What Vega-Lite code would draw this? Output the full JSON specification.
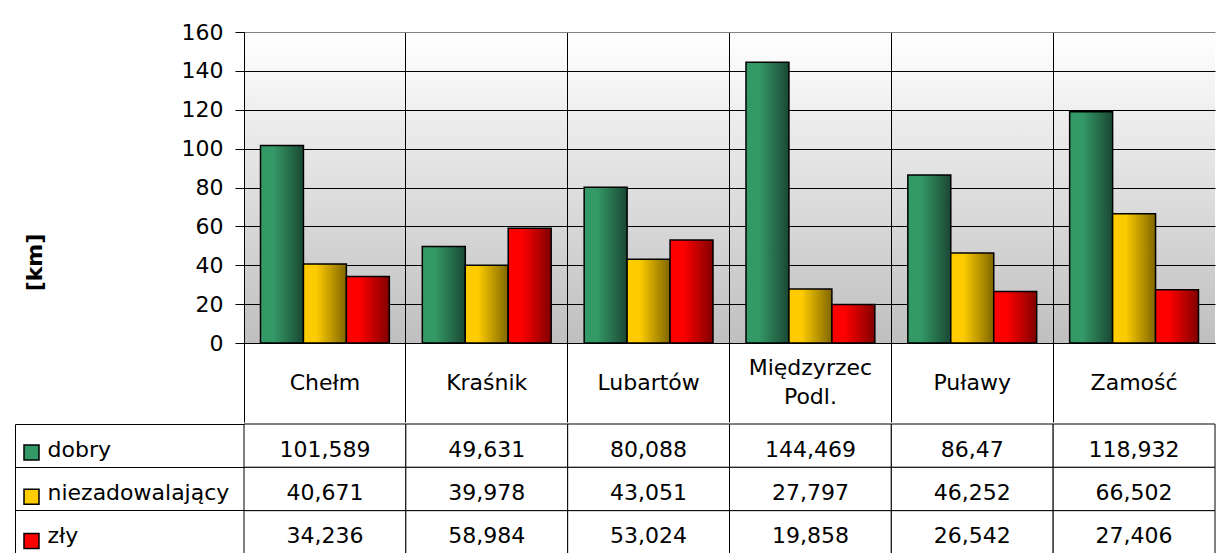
{
  "$schema": "https://vega.github.io/schema/vega-lite/v6.json",
  "padding": {"left": 14, "top": 21, "right": 0, "bottom": 0},
  "background": "white",
  "spacing": 0,
  "config": {
    "font": "DejaVu Sans",
    "locale": {"number": {"decimal": ",", "thousands": " ", "grouping": [3], "currency": ["", " zł"]}},
    "view": {"stroke": null},
    "axis": {
      "labelFont": "DejaVu Sans", "labelFontSize": 22, "labelColor": "black",
      "titleFont": "DejaVu Sans", "titleColor": "black",
      "domainColor": "black", "tickColor": "black", "gridColor": "black", "gridOpacity": 1,
      "domainWidth": 1, "tickWidth": 1, "gridWidth": 1
    }
  },
  "datasets": {
    "roads": [
      {"city": "Chełm", "series": "dobry", "value": 101.589},
      {"city": "Chełm", "series": "niezadowalający", "value": 40.671},
      {"city": "Chełm", "series": "zły", "value": 34.236},
      {"city": "Kraśnik", "series": "dobry", "value": 49.631},
      {"city": "Kraśnik", "series": "niezadowalający", "value": 39.978},
      {"city": "Kraśnik", "series": "zły", "value": 58.984},
      {"city": "Lubartów", "series": "dobry", "value": 80.088},
      {"city": "Lubartów", "series": "niezadowalający", "value": 43.051},
      {"city": "Lubartów", "series": "zły", "value": 53.024},
      {"city": "Międzyrzec Podl.", "series": "dobry", "value": 144.469},
      {"city": "Międzyrzec Podl.", "series": "niezadowalający", "value": 27.797},
      {"city": "Międzyrzec Podl.", "series": "zły", "value": 19.858},
      {"city": "Puławy", "series": "dobry", "value": 86.47},
      {"city": "Puławy", "series": "niezadowalający", "value": 46.252},
      {"city": "Puławy", "series": "zły", "value": 26.542},
      {"city": "Zamość", "series": "dobry", "value": 118.932},
      {"city": "Zamość", "series": "niezadowalający", "value": 66.502},
      {"city": "Zamość", "series": "zły", "value": 27.406}
    ]
  },
  "resolve": {"scale": {"color": "independent"}, "legend": {"color": "independent"}},
  "vconcat": [
    {
      "width": 971,
      "height": 311,
      "view": {
        "stroke": null,
        "fill": {"gradient": "linear", "x1": 0, "y1": 0, "x2": 0, "y2": 1,
          "stops": [{"offset": 0, "color": "#ffffff"}, {"offset": 1, "color": "#bfbfbf"}]}
      },
      "data": {"name": "roads"},
      "encoding": {
        "x": {
          "field": "city", "type": "nominal",
          "sort": ["Chełm", "Kraśnik", "Lubartów", "Międzyrzec Podl.", "Puławy", "Zamość"],
          "scale": {"paddingInner": 0, "paddingOuter": 0},
          "axis": {
            "title": null, "labelAngle": 0, "bandPosition": 0, "tickSize": 79,
            "labelPadding": {"condition": {"test": "datum.value === 'Międzyrzec Podl.'", "value": -55}, "value": -40},
            "labelBaseline": "middle", "labelAlign": "center",
            "labelExpr": "split(datum.label, ' ')", "labelLineHeight": 29,
            "grid": true
          }
        },
        "xOffset": {
          "field": "series", "type": "nominal",
          "scale": {"domain": ["dobry", "niezadowalający", "zły"], "paddingInner": 0, "paddingOuter": 0.384}
        },
        "y": {
          "field": "value", "type": "quantitative",
          "scale": {"domain": [0, 160], "nice": false},
          "axis": {
            "title": "[km]", "values": [0, 20, 40, 60, 80, 100, 120, 140, 160],
            "tickSize": 9, "labelPadding": 12,
            "titleFontSize": 22, "titleFontWeight": "bold", "titlePadding": 135, "titleY": 230,
            "gridColor": {"condition": {"test": "datum.value === 160", "value": "#808080"}, "value": "black"}
          }
        }
      },
      "layer": [
        {
          "transform": [{"filter": "datum.series === 'dobry'"}],
          "mark": {"type": "bar", "stroke": "black", "strokeWidth": 1.5,
            "fill": {"gradient": "linear", "x1": 0, "y1": 0, "x2": 1, "y2": 0,
              "stops": [{"offset": 0, "color": "#339966"}, {"offset": 0.3, "color": "#339966"}, {"offset": 1, "color": "#1a4733"}]}}
        },
        {
          "transform": [{"filter": "datum.series === 'niezadowalający'"}],
          "mark": {"type": "bar", "stroke": "black", "strokeWidth": 1.5,
            "fill": {"gradient": "linear", "x1": 0, "y1": 0, "x2": 1, "y2": 0,
              "stops": [{"offset": 0, "color": "#ffcc00"}, {"offset": 0.3, "color": "#fccb00"}, {"offset": 1, "color": "#806600"}]}}
        },
        {
          "transform": [{"filter": "datum.series === 'zły'"}],
          "mark": {"type": "bar", "stroke": "black", "strokeWidth": 1.5,
            "fill": {"gradient": "linear", "x1": 0, "y1": 0, "x2": 1, "y2": 0,
              "stops": [{"offset": 0, "color": "#ff0000"}, {"offset": 0.3, "color": "#ff0000"}, {"offset": 1, "color": "#800000"}]}}
        }
      ]
    },
    {
      "width": 971,
      "height": 130,
      "data": {"name": "roads"},
      "encoding": {
        "x": {
          "field": "city", "type": "nominal",
          "sort": ["Chełm", "Kraśnik", "Lubartów", "Międzyrzec Podl.", "Puławy", "Zamość"],
          "scale": {"paddingInner": 0, "paddingOuter": 0},
          "axis": null
        },
        "y": {
          "field": "series", "type": "nominal",
          "sort": ["dobry", "niezadowalający", "zły"],
          "scale": {"paddingInner": 0, "paddingOuter": 0},
          "axis": {
            "title": null, "offset": 229, "tickSize": -229, "bandPosition": 0, "grid": false,
            "labelAlign": "left", "labelPadding": 197, "labelOffset": 4, "labelBaseline": "middle", "labelLimit": 400
          }
        }
      },
      "layer": [
        {
          "mark": {"type": "rect", "fill": "white", "stroke": "black", "strokeWidth": 1}
        },
        {
          "mark": {"type": "text", "fontSize": 22, "dy": 4, "color": "black", "font": "DejaVu Sans"},
          "encoding": {"text": {"field": "value", "type": "quantitative", "format": ".6~r"}}
        },
        {
          "mark": {"type": "square", "opacity": 0, "size": 225, "stroke": "black", "strokeWidth": 1.5},
          "encoding": {
            "color": {
              "field": "series", "type": "nominal",
              "scale": {"domain": ["dobry", "niezadowalający", "zły"], "range": ["#339966", "#ffcc00", "#ff0000"]},
              "legend": {
                "orient": "none", "legendX": -221, "legendY": 20, "title": null,
                "labelExpr": "''", "labelFontSize": 1, "labelOffset": 0,
                "symbolType": "square", "symbolSize": 225, "symbolStrokeColor": "black",
                "symbolStrokeWidth": 1.5, "symbolOpacity": 1, "rowPadding": 23.3, "padding": 0
              }
            }
          }
        }
      ]
    }
  ]
}
